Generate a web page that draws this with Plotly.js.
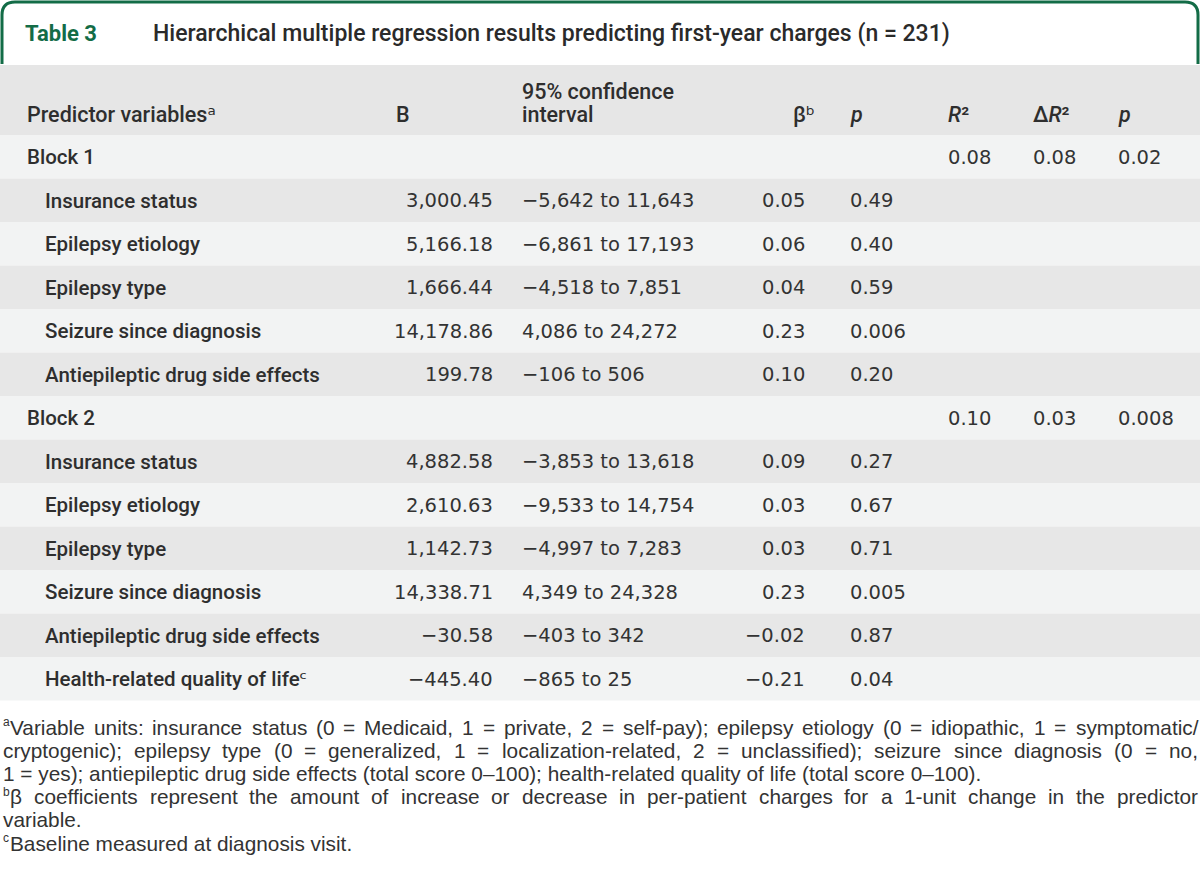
<!DOCTYPE html>
<html>
<head>
<meta charset="utf-8">
<script src="https://cdn.plot.ly/plotly-3.0.1.min.js"></script>
<style>html,body{margin:0;padding:0;background:#fff;}#chart{width:1200px;height:890px;}</style>
</head>
<body>
<div id="chart"></div>
<script>
// ---------- DATA ----------
const tableLabel = "Table 3";
const tableTitle = "Hierarchical multiple regression results predicting first-year charges (n = 231)";
const headerLabels = ["Predictor variablesᵃ", "B", "95% confidence", "interval", "βᵇ", "<i>p</i>", "<i>R</i>²", "Δ<i>R</i>²", "<i>p</i>"];
const rowLabels = ["Block 1", "Insurance status", "Epilepsy etiology", "Epilepsy type", "Seizure since diagnosis", "Antiepileptic drug side effects",
  "Block 2", "Insurance status", "Epilepsy etiology", "Epilepsy type", "Seizure since diagnosis", "Antiepileptic drug side effects", "Health-related quality of lifeᶜ"];
const isBlock = [true, false, false, false, false, false, true, false, false, false, false, false, false];
const bValues = ["", "3,000.45", "5,166.18", "1,666.44", "14,178.86", "199.78", "", "4,882.58", "2,610.63", "1,142.73", "14,338.71", "−30.58", "−445.40"];
const ciValues = ["", "−5,642 to 11,643", "−6,861 to 17,193", "−4,518 to 7,851", "4,086 to 24,272", "−106 to 506", "", "−3,853 to 13,618", "−9,533 to 14,754", "−4,997 to 7,283", "4,349 to 24,328", "−403 to 342", "−865 to 25"];
const betaValues = ["", "0.05", "0.06", "0.04", "0.23", "0.10", "", "0.09", "0.03", "0.03", "0.23", "−0.02", "−0.21"];
const pValues = ["", "0.49", "0.40", "0.59", "0.006", "0.20", "", "0.27", "0.67", "0.71", "0.005", "0.87", "0.04"];
const r2Values = ["0.08", "", "", "", "", "", "0.10", "", "", "", "", "", ""];
const dR2Values = ["0.08", "", "", "", "", "", "0.03", "", "", "", "", "", ""];
const pBlockValues = ["0.02", "", "", "", "", "", "0.008", "", "", "", "", "", ""];
const footnoteLines = [
  {sup: "a", text: "Variable units: insurance status (0 = Medicaid, 1 = private, 2 = self-pay); epilepsy etiology (0 = idiopathic, 1 = symptomatic/", justify: true},
  {sup: "", text: "cryptogenic); epilepsy type (0 = generalized, 1 = localization-related, 2 = unclassified); seizure since diagnosis (0 = no,", justify: true},
  {sup: "", text: "1 = yes); antiepileptic drug side effects (total score 0–100); health-related quality of life (total score 0–100).", justify: false},
  {sup: "b", text: "β coefficients represent the amount of increase or decrease in per-patient charges for a 1-unit change in the predictor", justify: true},
  {sup: "", text: "variable.", justify: false},
  {sup: "c", text: "Baseline measured at diagnosis visit.", justify: false}
];

// ---------- STYLE ----------
const FONT = "Roboto, 'DejaVu Sans', sans-serif";
const NUMFONT = "'DejaVu Sans', Roboto, sans-serif";
const FNFONT = "'Liberation Sans', Roboto, sans-serif";
const TXT = "#2e2e2e";
const GREEN = "#136c47";
const LIGHT = "#f2f3f3", DARK = "#e7e7e7", HEAD = "#e6e6e6";
const rowTop = 135, rowH = 43.5;
const fs = 20.5, numSize = 19.5, fnSize = 20.8;

const shapes = [];
const ann = [];
function A(x, y, text, opts) {
  ann.push(Object.assign({x: x, y: y, xref: "x", yref: "y", text: text, showarrow: false,
    xanchor: "left", yanchor: "middle", font: {family: FONT, size: fs, color: TXT}}, opts || {}));
}

// title box
shapes.push({type: "path", xref: "x", yref: "y", path: "M 2,64 L 2,15 Q 2,2 15,2 L 1185,2 Q 1198,2 1198,15 L 1198,64",
  line: {color: GREEN, width: 3}, fillcolor: "rgba(0,0,0,0)"});
A(23, 33, tableLabel, {font: {family: FONT, size: 22, color: GREEN, weight: 700}});
A(151, 33, tableTitle, {font: {family: FONT, size: 23, color: "#2a2a2a", weight: 500}});

// header
shapes.push({type: "rect", xref: "x", yref: "y", x0: 0, x1: 1200, y0: 65, y1: rowTop, fillcolor: HEAD, line: {width: 0}, layer: "below"});
const HF = {family: FONT, size: 21.5, color: TXT, weight: 500};
A(25, 114, headerLabels[0], {font: HF});
A(394, 114, headerLabels[1], {font: HF});
A(520, 91, headerLabels[2], {font: HF});
A(520, 114, headerLabels[3], {font: HF});
A(791, 114, headerLabels[4], {font: HF});
A(848, 114, headerLabels[5], {font: HF});
A(946, 114, headerLabels[6], {font: HF});
A(1031, 114, headerLabels[7], {font: HF});
A(1116, 114, headerLabels[8], {font: HF});

// rows
const LF = {family: FONT, size: fs, color: TXT, weight: 500};
const NF = {family: NUMFONT, size: numSize, color: "#333333"};
rowLabels.forEach((lab, i) => {
  const y0 = rowTop + i * rowH, yc = y0 + rowH / 2 + 0.5;
  shapes.push({type: "rect", xref: "x", yref: "y", x0: 0, x1: 1200, y0: y0, y1: y0 + rowH,
    fillcolor: i % 2 === 0 ? LIGHT : DARK, line: {width: 0}, layer: "below"});
  A(isBlock[i] ? 25 : 43, yc, lab, {font: LF});
  if (bValues[i]) A(495, yc, bValues[i], {xanchor: "right", font: NF});
  if (ciValues[i]) A(520, yc, ciValues[i], {font: NF});
  if (betaValues[i]) A(807, yc, betaValues[i], {xanchor: "right", font: NF});
  if (pValues[i]) A(848, yc, pValues[i], {font: NF});
  if (r2Values[i]) A(946, yc, r2Values[i], {font: NF});
  if (dR2Values[i]) A(1031, yc, dR2Values[i], {font: NF});
  if (pBlockValues[i]) A(1116, yc, pBlockValues[i], {font: NF});
});

// footnotes (justified via canvas measurement)
const cv = document.createElement("canvas").getContext("2d");
function measure(t, size) { cv.font = size + "px 'Liberation Sans'"; return cv.measureText(t).width; }
const fnTop = 727, fnStep = 23.2, fnRight = 1196;
const FNCOL = "#333333";
footnoteLines.forEach((ln, k) => {
  const y = fnTop + k * fnStep;
  let x = 0.5;
  if (ln.sup) {
    A(x, y - 5, ln.sup, {font: {family: FNFONT, size: 12, color: FNCOL}});
    x += measure(ln.sup, 12) + 1;
  }
  let size = fnSize;
  if (!ln.justify) { A(x, y, ln.text, {font: {family: FNFONT, size: size, color: FNCOL}}); return; }
  const words = ln.text.split(" ");
  let widths = words.map(w => measure(w, size));
  let total = widths.reduce((a, b) => a + b, 0);
  const avail = fnRight - x;
  const natural = total + (words.length - 1) * measure(" ", size);
  if (natural > avail) {
    size = size * avail / natural;
    widths = words.map(w => measure(w, size));
    total = widths.reduce((a, b) => a + b, 0);
  }
  const gap = (avail - total) / (words.length - 1);
  const f = {family: FNFONT, size: size, color: FNCOL};
  words.forEach((w, j) => { A(x, y, w, {font: f}); x += widths[j] + gap; });
});

const layout = {
  width: 1200, height: 890, margin: {l: 0, r: 0, t: 0, b: 0},
  paper_bgcolor: "#ffffff", plot_bgcolor: "#ffffff",
  xaxis: {range: [0, 1200], visible: false, fixedrange: true},
  yaxis: {range: [890, 0], visible: false, fixedrange: true},
  shapes: shapes, annotations: ann, showlegend: false
};
Plotly.newPlot("chart", [{x: [], y: [], type: "scatter"}], layout, {staticPlot: true, displayModeBar: false});
</script>
</body>
</html>
